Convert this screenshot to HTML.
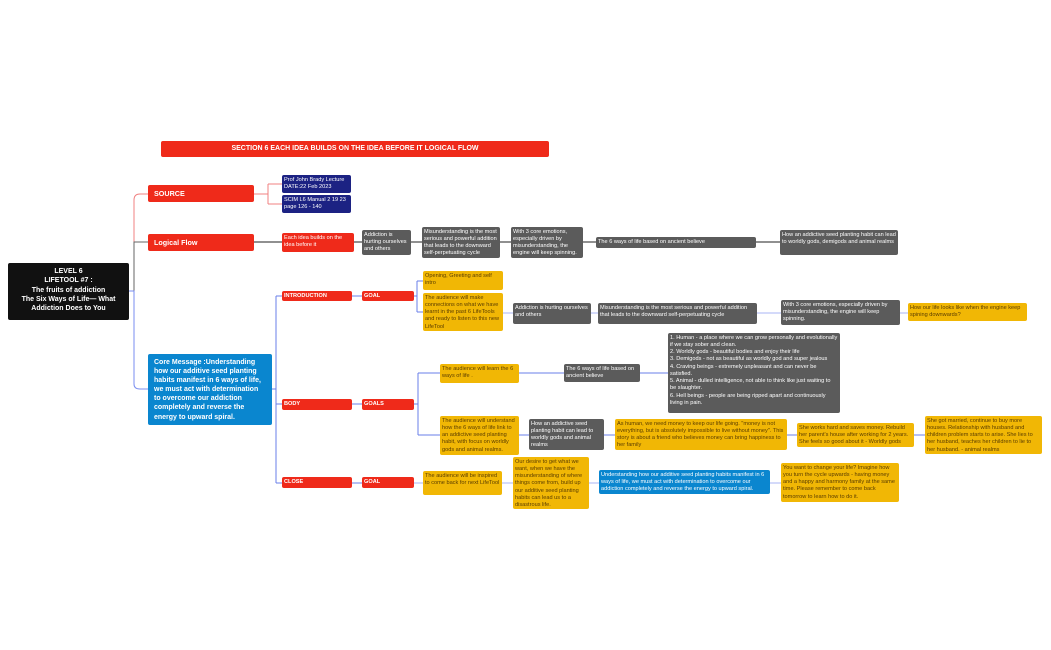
<!DOCTYPE html>
<html><head><meta charset="utf-8"><style>
body{margin:0;width:1051px;height:650px;background:#fff;position:relative;overflow:hidden;font-family:"Liberation Sans",sans-serif}
.b{position:absolute;box-sizing:border-box;border-radius:2px;font-size:5.6px;line-height:1.3;padding:1.5px 2px;overflow:hidden}
.r{background:#ef2a1a;color:#fff;font-weight:bold}
.n{background:#1c2283;color:#fff}
.g{background:#5b5b5b;color:#fff}
.y{background:#f1b705;color:#5a3d00}
.bl{background:#0a86cf;color:#fff}
.k{background:#111;color:#fff;font-weight:bold;text-align:center}
svg{position:absolute;left:0;top:0}
</style></head><body>
<svg width="1051" height="650" fill="none" stroke-width="1">
<path d="M134 242 V200 Q134 194 140 194 H148" stroke="#f08080"/>
<path d="M128 291 H134 V242 H148" stroke="#666"/>
<path d="M128 291 H134 V384 Q134 389 140 389 H148" stroke="#7a8ef0"/>
<path d="M254 194 H268 M268 184 V204 M268 184 H282 M268 204 H282" stroke="#f08080"/>
<path d="M254 242 H282 M354 242 H362 M411 242 H422 M500 242 H511 M583 242 H596 M756 242 H780" stroke="#222"/>
<path d="M272 389 H276 M276 296 V483 M276 296 H282 M276 404 H282 M276 483 H282" stroke="#6a7fe8"/>
<path d="M352 296 H362 M352 404 H362 M352 483 H362" stroke="#6a7fe8"/>
<path d="M414 296 H417 M417 281 V312 M417 281 H423 M417 312 H423" stroke="#6a7fe8"/>
<path d="M503 313 H513 M591 313 H598 M757 313 H781 M900 313 H908" stroke="#a9b6f6"/>
<path d="M414 404 H418 M418 373 V435 M418 373 H440 M418 435 H440" stroke="#6a7fe8"/>
<path d="M519 373 H564 M640 373 H668 M519 435 H529 M604 435 H615 M787 435 H797 M914 435 H925" stroke="#6a7fe8"/>
<path d="M414 483 H423 M502 483 H513 M589 483 H599 M770 483 H781" stroke="#a9b6f6"/>
</svg>
<div class="b r" style="left:161px;top:141px;width:388px;height:16px;font-size:7px;text-align:center;line-height:16px;padding:0">SECTION 6 EACH IDEA BUILDS ON THE IDEA BEFORE IT LOGICAL FLOW</div>
<div class="b r" style="left:148px;top:185px;width:106px;height:17px;font-size:7.2px;padding:4px 6px">SOURCE</div>
<div class="b n" style="left:282px;top:175px;width:69px;height:18px">Prof John Brady Lecture<br>DATE:22 Feb 2023</div>
<div class="b n" style="left:282px;top:195px;width:69px;height:18px">SCIM L6 Manual 2 19 23<br>page 126 - 140</div>
<div class="b r" style="left:148px;top:234px;width:106px;height:17px;font-size:7.2px;padding:4px 6px">Logical Flow</div>
<div class="b r" style="left:282px;top:233px;width:72px;height:19px;font-weight:normal">Each idea builds on the idea before it</div>
<div class="b g" style="left:362px;top:230px;width:49px;height:25px">Addiction is hurting ourselves and others</div>
<div class="b g" style="left:422px;top:227px;width:78px;height:31px">Misunderstanding is the most serious and powerful addition that leads to the downward self-perpetuating cycle</div>
<div class="b g" style="left:511px;top:227px;width:72px;height:31px">With 3 core emotions, especially driven by misunderstanding, the engine will keep spinning.</div>
<div class="b g" style="left:596px;top:237px;width:160px;height:11px">The 6 ways of life based on ancient believe</div>
<div class="b g" style="left:780px;top:230px;width:118px;height:25px">How an addictive seed planting habit can lead to worldly gods, demigods and animal realms</div>
<div class="b k" style="left:8px;top:263px;width:121px;height:57px;font-size:7px;padding:4px 2px;line-height:1.33">LEVEL 6<br>LIFETOOL #7 :<br>The fruits of addiction<br>The Six Ways of Life— What Addiction Does to You</div>
<div class="b bl" style="left:148px;top:354px;width:124px;height:71px;font-size:7px;font-weight:bold;padding:4px 6px;line-height:1.3">Core Message :Understanding how our additive seed planting habits manifest in 6 ways of life, we must act with determination to overcome our addiction completely and reverse the energy to upward spiral.</div>
<div class="b r" style="left:282px;top:291px;width:70px;height:10px;padding:1.5px 2px">INTRODUCTION</div>
<div class="b r" style="left:362px;top:291px;width:52px;height:10px;padding:1.5px 2px">GOAL</div>
<div class="b y" style="left:423px;top:271px;width:80px;height:19px">Opening, Greeting and self intro</div>
<div class="b y" style="left:423px;top:293px;width:80px;height:38px">The audience will make connections on what we have learnt in the past 6 LifeTools and ready to listen to this new LifeTool</div>
<div class="b g" style="left:513px;top:303px;width:78px;height:21px">Addiction is hurting ourselves and others</div>
<div class="b g" style="left:598px;top:303px;width:159px;height:21px">Misunderstanding is the most serious and powerful addition that leads to the downward self-perpetuating cycle</div>
<div class="b g" style="left:781px;top:300px;width:119px;height:25px">With 3 core emotions, especially driven by misunderstanding, the engine will keep spinning.</div>
<div class="b y" style="left:908px;top:303px;width:119px;height:18px">How our life looks like when the engine keep spining downwards?</div>
<div class="b r" style="left:282px;top:399px;width:70px;height:11px;padding:2px 2px">BODY</div>
<div class="b r" style="left:362px;top:399px;width:52px;height:11px;padding:2px 2px">GOALS</div>
<div class="b y" style="left:440px;top:364px;width:79px;height:19px">The audience will learn the 6 ways of life .</div>
<div class="b g" style="left:564px;top:364px;width:76px;height:18px">The 6 ways of life based on ancient believe</div>
<div class="b g" style="left:668px;top:333px;width:172px;height:80px">1. Human - a place where we can grow personally and evolutionally if we stay sober and clean.<br>2. Worldly gods - beautiful bodies and enjoy their life<br>3. Demigods - not as beautiful as worldly god and super jealous<br>4. Craving beings - extremely unpleasant and can never be satisfied.<br>5. Animal - dulled intelligence, not able to think like just waiting to be slaughter.<br>6. Hell beings - people are being ripped apart and continuously living in pain.</div>
<div class="b y" style="left:440px;top:416px;width:79px;height:39px">The audience will understand how the 6 ways of life link to an addictive seed planting habit, with focus on worldly gods and animal realms.</div>
<div class="b g" style="left:529px;top:419px;width:75px;height:31px">How an addictive seed planting habit can lead to worldly gods and animal realms</div>
<div class="b y" style="left:615px;top:419px;width:172px;height:31px">As human, we need money to keep our life going. "money is not everything, but is absolutely impossible to live without money". This story is about a friend who believes money can bring happiness to her family</div>
<div class="b y" style="left:797px;top:423px;width:117px;height:24px">She works hard and saves money. Rebuild her parent's house after working for 2 years. She feels so good about it - Worldly gods</div>
<div class="b y" style="left:925px;top:416px;width:117px;height:38px">She got married, continue to buy more houses. Relationship with husband and children problem starts to arise. She lies to her husband, teaches her children to lie to her husband. - animal realms</div>
<div class="b r" style="left:282px;top:477px;width:70px;height:11px;padding:2px 2px">CLOSE</div>
<div class="b r" style="left:362px;top:477px;width:52px;height:11px;padding:2px 2px">GOAL</div>
<div class="b y" style="left:423px;top:471px;width:79px;height:24px">The audience will be inspired to come back for next LifeTool</div>
<div class="b y" style="left:513px;top:457px;width:76px;height:52px">Our desire to get what we want, when we have the misunderstanding of where things come from, build up our additive seed planting habits can lead us to a disastrous life.</div>
<div class="b bl" style="left:599px;top:470px;width:171px;height:24px">Understanding how our additive seed planting habits manifest in 6 ways of life, we must act with determination to overcome our addiction completely and reverse the energy to upward spiral.</div>
<div class="b y" style="left:781px;top:463px;width:118px;height:39px">You want to change your life? Imagine how you turn the cycle upwards - having money and a happy and harmony family at the same time. Please remember to come back tomorrow to learn how to do it.</div>
</body></html>
